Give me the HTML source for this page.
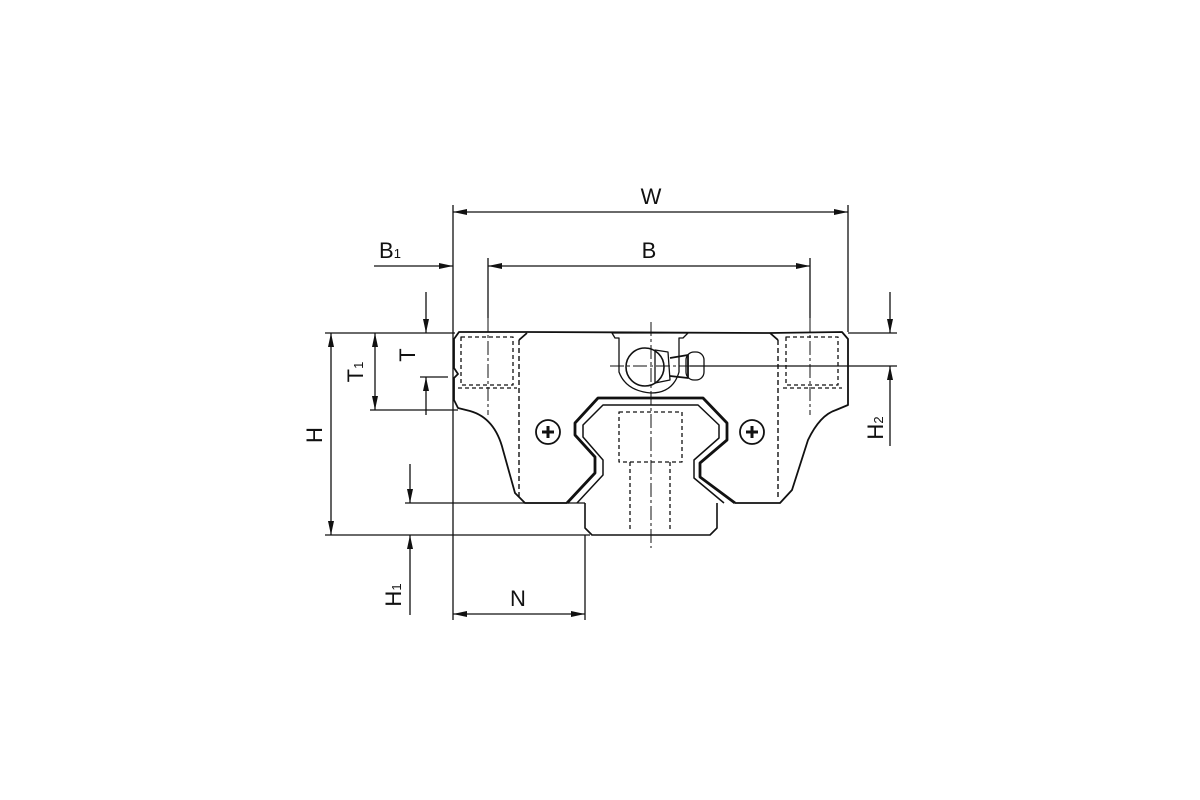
<!DOCTYPE html>
<html><head><meta charset="utf-8"><style>
html,body{margin:0;padding:0;background:#fff;}
svg{display:block;}
text{font-family:"Liberation Sans",sans-serif;fill:#111;}
</style></head><body>
<svg width="1200" height="800" viewBox="0 0 1200 800" xmlns="http://www.w3.org/2000/svg">
<defs>
<marker id="a" viewBox="0 0 10 10" refX="10" refY="5" markerWidth="14" markerHeight="6" preserveAspectRatio="none" markerUnits="userSpaceOnUse" orient="auto-start-reverse"><path d="M0,0 L10,5 L0,10 z" fill="#111"/></marker>
</defs>
<g stroke="#111" fill="none" stroke-width="1.3">
<line x1="453" y1="205" x2="453" y2="620"/>
<line x1="848" y1="205" x2="848" y2="332"/>
<line x1="488" y1="258" x2="488" y2="318"/>
<line x1="810" y1="258" x2="810" y2="318"/>
<line x1="325" y1="333" x2="455" y2="333"/>
<line x1="325" y1="535" x2="590" y2="535"/>
<line x1="370" y1="410" x2="458" y2="410"/>
<line x1="420" y1="377" x2="448" y2="377"/>
<line x1="405" y1="503" x2="585" y2="503"/>
<line x1="585" y1="535" x2="585" y2="620"/>
<line x1="848" y1="333" x2="897" y2="333"/>
<line x1="690" y1="366" x2="897" y2="366"/>
<line x1="453" y1="212" x2="848" y2="212" marker-start="url(#a)" marker-end="url(#a)"/>
<line x1="488" y1="266" x2="810" y2="266" marker-start="url(#a)" marker-end="url(#a)"/>
<line x1="374" y1="266" x2="453" y2="266" marker-end="url(#a)"/>
<line x1="331" y1="333" x2="331" y2="535" marker-start="url(#a)" marker-end="url(#a)"/>
<line x1="375" y1="333" x2="375" y2="410" marker-start="url(#a)" marker-end="url(#a)"/>
<line x1="426" y1="292" x2="426" y2="333" marker-end="url(#a)"/>
<line x1="426" y1="415" x2="426" y2="377" marker-end="url(#a)"/>
<line x1="410" y1="464" x2="410" y2="503" marker-end="url(#a)"/>
<line x1="410" y1="615" x2="410" y2="535" marker-end="url(#a)"/>
<line x1="453" y1="614" x2="585" y2="614" marker-start="url(#a)" marker-end="url(#a)"/>
<line x1="890" y1="292" x2="890" y2="333" marker-end="url(#a)"/>
<line x1="890" y1="446" x2="890" y2="366" marker-end="url(#a)"/>
</g>
<g stroke="#111" fill="none" stroke-width="1.8" stroke-linejoin="round">
<path d="M567,503 L525,503 L515,493 L503,450 Q495,418 470,411 L458,408 L454,400 L454,378 L458,374 L454,368 L454,339 L459,332 L527,332 L770,333 L842,332 L848,339 L848,405 L836,410 Q820,415 808,440 L792,490 L780,503 L735,503"/>
<path d="M527,333 L519,340 M770,333 L778,340"/>
<path d="M519,340 L519,500 M778,340 L778,500" stroke-dasharray="5,3" stroke-width="1.4"/>
<path d="M567,503 L595,473 L595,457 L575,435 L575,423 L598,398 L703,398 L727,423 L727,440 L700,463 L700,477 L735,503" stroke-width="2.8"/>
<path d="M577,503 L603,475 L603,460 L583,437 L583,425 L603,405 L698,405 L719,425 L719,438 L694,460 L694,478 L724,503" stroke-width="1.5"/>
<path d="M585,503 L585,528 L592,535 L710,535 L717,528 L717,503" stroke-width="1.6"/>
<g stroke-dasharray="4,3" stroke-width="1.3">
<rect x="461" y="337" width="52" height="48"/>
<rect x="786" y="337" width="52" height="48"/>
<line x1="458" y1="388" x2="517" y2="388"/>
<line x1="783" y1="388" x2="842" y2="388"/>
<rect x="619" y="412" width="63" height="50"/>
<line x1="630" y1="462" x2="630" y2="532"/>
<line x1="670" y1="462" x2="670" y2="532"/>
</g>
<g stroke-dasharray="14,3,3,3" stroke-width="1">
<line x1="488" y1="318" x2="488" y2="415"/>
<line x1="810" y1="318" x2="810" y2="415"/>
<line x1="651" y1="322" x2="651" y2="548"/>
<line x1="610" y1="366" x2="700" y2="366"/>
</g>
<path d="M612,333 L688,333 L683,338 L679,338 L679,372 Q673,393 651,393 Q626,391 619,372 L619,338 L615,338 Z" stroke-width="1.3"/>
<circle cx="645" cy="367" r="19" stroke-width="1.6"/>
<path d="M655,350 L668,352 L670,380 L655,383 Z" stroke-width="1.3"/>
<path d="M670,358 L688,355 L688,378 L670,376"/>
<rect x="686" y="352" width="18" height="28" rx="8" stroke-width="1.3"/>
<circle cx="548" cy="432" r="12"/>
<circle cx="752" cy="432" r="12"/>
<path d="M542,432 H554 M548,426 V438 M746,432 H758 M752,426 V438" stroke-width="3"/>
</g>
<text x="651" y="204" font-size="22" text-anchor="middle">W</text>
<text x="649" y="258" font-size="22" text-anchor="middle">B</text>
<text x="379" y="258" font-size="22">B<tspan font-size="13">1</tspan></text>
<text x="518" y="606" font-size="22" text-anchor="middle">N</text>
<text transform="translate(322,435) rotate(-90)" font-size="22" text-anchor="middle">H</text>
<text transform="translate(363,372) rotate(-90)" font-size="22" text-anchor="middle">T<tspan font-size="13">1</tspan></text>
<text transform="translate(415,355) rotate(-90)" font-size="22" text-anchor="middle">T</text>
<text transform="translate(401,595) rotate(-90)" font-size="22" text-anchor="middle">H<tspan font-size="13">1</tspan></text>
<text transform="translate(883,428) rotate(-90)" font-size="22" text-anchor="middle">H<tspan font-size="13">2</tspan></text>
</svg>
</body></html>
